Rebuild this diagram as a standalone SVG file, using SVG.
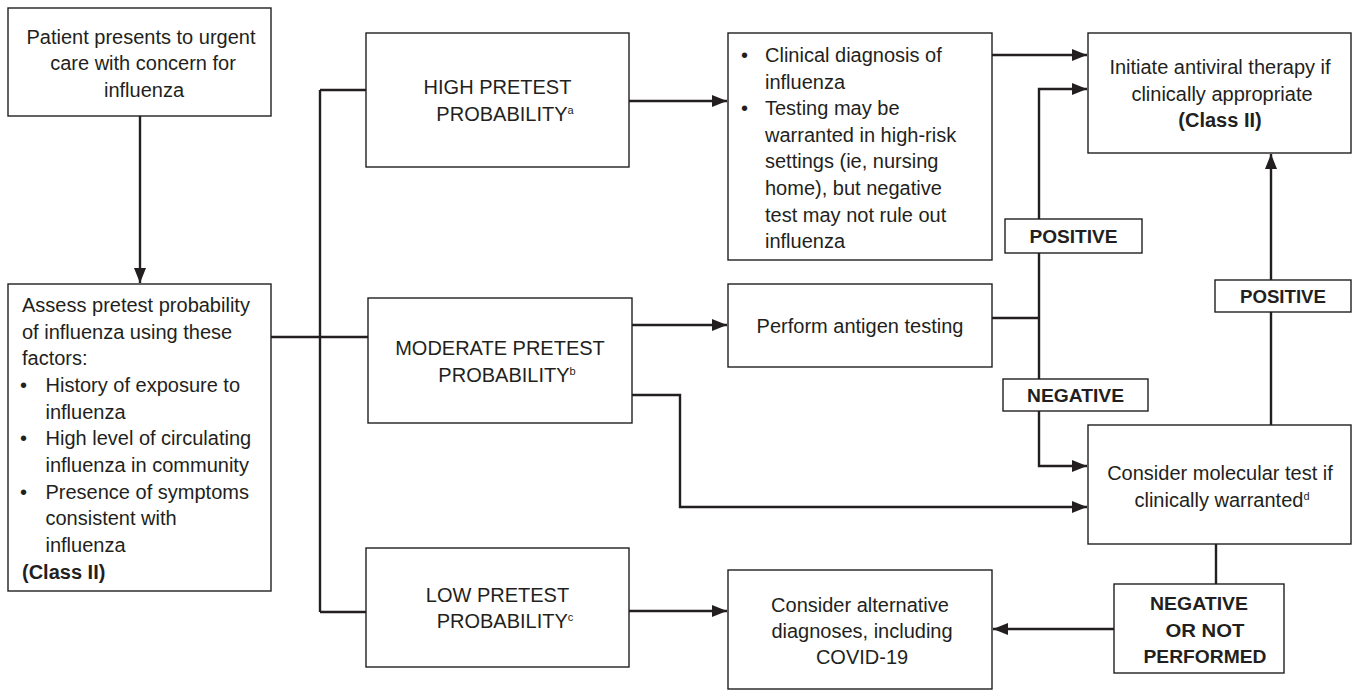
<svg xmlns="http://www.w3.org/2000/svg" width="1353" height="690" viewBox="0 0 1353 690">
<style>
.box{fill:#fff;stroke:#231f20;stroke-width:1.4}
.lbl{fill:#fff;stroke:#231f20;stroke-width:1.4}
.t{font-family:"Liberation Sans",Arial,sans-serif;font-size:20px;fill:#231f20}
.c{text-anchor:middle}
.b{font-weight:bold}
.k{font-family:"Liberation Sans",Arial,sans-serif;font-size:19px;font-weight:bold;fill:#231f20;text-anchor:middle}
.sup{font-size:11px}
.ln{fill:none;stroke:#231f20;stroke-width:2.4}
</style>
<defs>
<marker id="ah" viewBox="0 0 15 12" refX="15" refY="6" markerWidth="15" markerHeight="12" orient="auto" markerUnits="userSpaceOnUse">
<path d="M0,0 L15,6 L0,12 z" fill="#231f20"/>
</marker>
</defs>

<g id="connectors">
<path class="ln" d="M140,116 V283" marker-end="url(#ah)"/>
<path class="ln" d="M271,337 H368"/>
<path class="ln" d="M320,90 V612"/>
<path class="ln" d="M320,90 H366"/>
<path class="ln" d="M320,612 H366"/>
<path class="ln" d="M629,101 H727" marker-end="url(#ah)"/>
<path class="ln" d="M632,325 H727" marker-end="url(#ah)"/>
<path class="ln" d="M632,395 H680 V507 H1087" marker-end="url(#ah)"/>
<path class="ln" d="M629,611 H727" marker-end="url(#ah)"/>
<path class="ln" d="M992,55 H1087" marker-end="url(#ah)"/>
<path class="ln" d="M992,318 H1039"/>
<path class="ln" d="M1039,318 V89 H1087" marker-end="url(#ah)"/>
<path class="ln" d="M1039,318 V466 H1087" marker-end="url(#ah)"/>
<path class="ln" d="M1271,425 V154" marker-end="url(#ah)"/>
<path class="ln" d="M1216,544 V584"/>
<path class="ln" d="M1114,629 H993" marker-end="url(#ah)"/>
</g>

<g id="patient">
<rect class="box" x="8" y="8" width="263" height="108"/>
<text class="t c" x="141" y="43.5">Patient presents to urgent</text>
<text class="t c" x="143" y="70">care with concern for</text>
<text class="t c" x="144" y="96.5">influenza</text>
</g>

<g id="assess">
<rect class="box" x="8" y="284" width="263" height="307"/>
<text class="t" x="22" y="312">Assess pretest probability</text>
<text class="t" x="22" y="338.7">of influenza using these</text>
<text class="t" x="22" y="365.3">factors:</text>
<text class="t" x="20" y="392">•</text>
<text class="t" x="45.5" y="392">History of exposure to</text>
<text class="t" x="45.5" y="418.7">influenza</text>
<text class="t" x="20" y="445.3">•</text>
<text class="t" x="45.5" y="445.3">High level of circulating</text>
<text class="t" x="45.5" y="472">influenza in community</text>
<text class="t" x="20" y="498.7">•</text>
<text class="t" x="45.5" y="498.7">Presence of symptoms</text>
<text class="t" x="45.5" y="525.3">consistent with</text>
<text class="t" x="45.5" y="552">influenza</text>
<text class="t b" x="22" y="578.7">(Class II)</text>
</g>

<g id="high">
<rect class="box" x="366" y="33" width="263" height="134"/>
<text class="t c" x="497.5" y="94">HIGH PRETEST</text>
<text class="t c" x="505" y="120.7">PROBABILITY<tspan class="sup" dy="-7">a</tspan></text>
</g>

<g id="moderate">
<rect class="box" x="368" y="298" width="264" height="125"/>
<text class="t c" x="500" y="355">MODERATE PRETEST</text>
<text class="t c" x="507" y="381.7">PROBABILITY<tspan class="sup" dy="-7">b</tspan></text>
</g>

<g id="low">
<rect class="box" x="366" y="548" width="263" height="119"/>
<text class="t c" x="497.5" y="602">LOW PRETEST</text>
<text class="t c" x="505" y="628.3">PROBABILITY<tspan class="sup" dy="-7">c</tspan></text>
</g>

<g id="clinical">
<rect class="box" x="728" y="33" width="264" height="227"/>
<text class="t" x="741" y="62">•</text>
<text class="t" x="765" y="62">Clinical diagnosis of</text>
<text class="t" x="765" y="88.6">influenza</text>
<text class="t" x="741" y="115.2">•</text>
<text class="t" x="765" y="115.2">Testing may be</text>
<text class="t" x="765" y="141.8">warranted in high-risk</text>
<text class="t" x="765" y="168.4">settings (ie, nursing</text>
<text class="t" x="765" y="195">home), but negative</text>
<text class="t" x="765" y="221.6">test may not rule out</text>
<text class="t" x="765" y="248.2">influenza</text>
</g>

<g id="perform">
<rect class="box" x="728" y="284" width="264" height="83"/>
<text class="t c" x="860" y="333">Perform antigen testing</text>
</g>

<g id="alternative">
<rect class="box" x="728" y="570" width="264" height="119"/>
<text class="t c" x="860" y="612">Consider alternative</text>
<text class="t c" x="862" y="638">diagnoses, including</text>
<text class="t c" x="862" y="664">COVID-19</text>
</g>

<g id="initiate">
<rect class="box" x="1088" y="33" width="263" height="120"/>
<text class="t c" x="1220" y="74">Initiate antiviral therapy if</text>
<text class="t c" x="1222" y="101">clinically appropriate</text>
<text class="t c b" x="1220" y="127">(Class II)</text>
</g>

<g id="molecular">
<rect class="box" x="1088" y="425" width="263" height="119"/>
<text class="t c" x="1220" y="480">Consider molecular test if</text>
<text class="t c" x="1222" y="507">clinically warranted<tspan class="sup" dy="-7">d</tspan></text>
</g>

<g id="label-positive-1">
<rect class="lbl" x="1005" y="219" width="137" height="34"/>
<text class="k" x="1073.5" y="243" textLength="88" lengthAdjust="spacingAndGlyphs">POSITIVE</text>
</g>

<g id="label-negative-1">
<rect class="lbl" x="1003" y="379" width="145" height="32"/>
<text class="k" x="1075.5" y="402" textLength="97" lengthAdjust="spacingAndGlyphs">NEGATIVE</text>
</g>

<g id="label-positive-2">
<rect class="lbl" x="1215" y="280" width="136" height="32"/>
<text class="k" x="1283" y="303" textLength="86" lengthAdjust="spacingAndGlyphs">POSITIVE</text>
</g>

<g id="label-negative-not-performed">
<rect class="lbl" x="1114" y="584" width="170" height="89"/>
<text class="k" x="1199" y="610" textLength="98" lengthAdjust="spacingAndGlyphs">NEGATIVE</text>
<text class="k" x="1205" y="637" textLength="79" lengthAdjust="spacingAndGlyphs">OR NOT</text>
<text class="k" x="1205" y="663" textLength="123" lengthAdjust="spacingAndGlyphs">PERFORMED</text>
</g>
</svg>
